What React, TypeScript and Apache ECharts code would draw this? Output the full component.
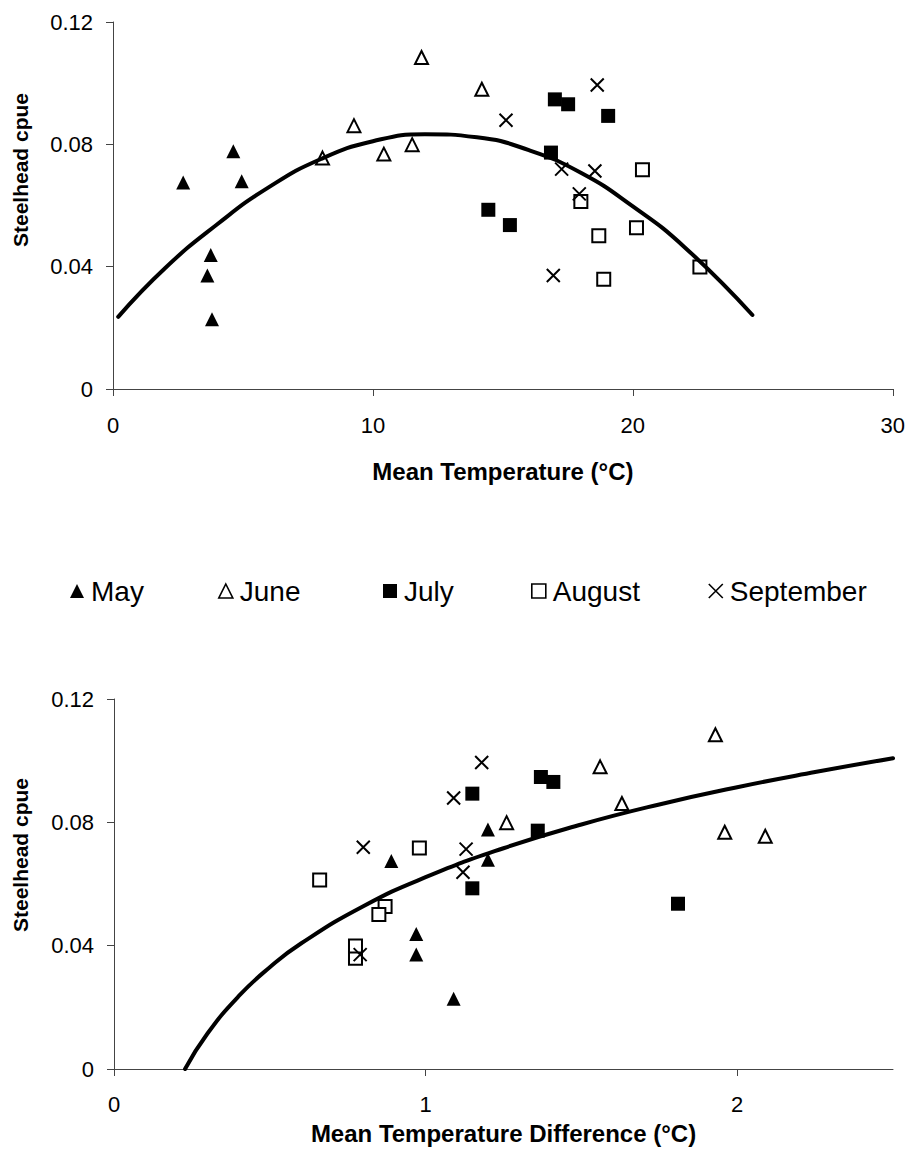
import React, { useEffect, useRef } from "react";
import * as echarts from "echarts";

// ---- Data ----
const months = ["May", "June", "July", "August", "September"];

// Steelhead cpue per sample, with mean temperature (°C) and mean temperature difference (°C)
const mayCpue = [0.0675, 0.0777, 0.0679, 0.0438, 0.0371, 0.0228];
const mayTemp = [2.7, 4.63, 4.95, 3.76, 3.63, 3.81];
const mayDiff = [0.89, 1.2, 1.2, 0.97, 0.97, 1.09];

const juneCpue = [0.0755, 0.0861, 0.0768, 0.0799, 0.1084, 0.098];
const juneTemp = [8.06, 9.27, 10.42, 11.51, 11.87, 14.19];
const juneDiff = [2.09, 1.63, 1.96, 1.26, 1.93, 1.56];

const julyCpue = [0.0947, 0.0931, 0.0893, 0.0773, 0.0586, 0.0536];
const julyTemp = [17.0, 17.51, 19.05, 16.85, 14.44, 15.27];
const julyDiff = [1.37, 1.41, 1.15, 1.36, 1.15, 1.81];

const augustCpue = [0.0717, 0.0613, 0.0527, 0.0501, 0.0359, 0.0399];
const augustTemp = [20.37, 18.0, 20.14, 18.69, 18.88, 22.58];
const augustDiff = [0.98, 0.66, 0.87, 0.85, 0.775, 0.775];

const septemberCpue = [0.0994, 0.0879, 0.0719, 0.0713, 0.0638, 0.0371];
const septemberTemp = [18.63, 15.12, 17.26, 18.54, 17.94, 16.94];
const septemberDiff = [1.18, 1.09, 0.8, 1.13, 1.12, 0.79];

// Fitted trend curves
const tempCurveX = [0.2, 2, 4, 6, 8, 10, 12, 14, 16, 18, 20, 22, 24.6];
const tempCurveY = [0.0236, 0.0395, 0.0538, 0.066, 0.0752, 0.081, 0.0833, 0.0823, 0.0781, 0.0707, 0.0597, 0.0463, 0.0242];

const diffCurveX = [0.228, 0.3, 0.4, 0.5, 0.6, 0.8, 1.0, 1.25, 1.5, 1.75, 2.0, 2.25, 2.5];
const diffCurveY = [0, 0.0115, 0.0236, 0.033, 0.0407, 0.0528, 0.0622, 0.0716, 0.0793, 0.0858, 0.0914, 0.0963, 0.1008];

// ---- Styles ----
const FONT = '"Liberation Sans", Arial, Helvetica, sans-serif';
const X_ICON = "path://M0,0L10,10M10,0L0,10";

const monthStyles: Record<string, any> = {
  May: { symbol: "triangle", symbolSize: 14, itemStyle: { color: "#000", opacity: 1 } },
  June: { symbol: "triangle", symbolSize: 13, itemStyle: { color: "#fff", borderColor: "#000", borderWidth: 2, opacity: 1 } },
  July: { symbol: "rect", symbolSize: 14, itemStyle: { color: "#000", opacity: 1 } },
  August: { symbol: "rect", symbolSize: 13, itemStyle: { color: "#fff", borderColor: "#000", borderWidth: 2, opacity: 1 } },
  September: { symbol: X_ICON, symbolSize: 13, itemStyle: { color: "#000", borderColor: "#000", borderWidth: 2, opacity: 1 } },
};

const monthData: Record<string, { cpue: number[]; temp: number[]; diff: number[] }> = {
  May: { cpue: mayCpue, temp: mayTemp, diff: mayDiff },
  June: { cpue: juneCpue, temp: juneTemp, diff: juneDiff },
  July: { cpue: julyCpue, temp: julyTemp, diff: julyDiff },
  August: { cpue: augustCpue, temp: augustTemp, diff: augustDiff },
  September: { cpue: septemberCpue, temp: septemberTemp, diff: septemberDiff },
};

const legendLefts = [65, 213, 378, 526, 703];

function zip(xs: number[], ys: number[]) {
  return xs.map((x, i) => [x, ys[i]]);
}

function buildOption() {
  const axisLine = { show: true, lineStyle: { color: "#444", width: 1 } };
  const axisTick = { show: true, length: 7, lineStyle: { color: "#444", width: 1 } };
  const labelStyle = { color: "#000", fontSize: 22, fontFamily: FONT };
  const nameStyle = { color: "#000", fontSize: 24, fontWeight: "bold", fontFamily: FONT };

  const series: any[] = [];
  months.forEach((m) => {
    const d = monthData[m];
    const st = monthStyles[m];
    series.push({
      type: "scatter",
      name: m,
      xAxisIndex: 0,
      yAxisIndex: 0,
      data: zip(d.temp, d.cpue),
      ...st,
      z: 3,
    });
    series.push({
      type: "scatter",
      name: m,
      xAxisIndex: 1,
      yAxisIndex: 1,
      data: zip(d.diff, d.cpue),
      ...st,
      z: 3,
    });
  });
  const curveStyle = {
    type: "line",
    smooth: true,
    showSymbol: false,
    symbol: "none",
    lineStyle: { color: "#000", width: 4, cap: "round", join: "round" },
    z: 4,
  };
  series.push({
    ...curveStyle,
    name: "Temperature fit",
    xAxisIndex: 0,
    yAxisIndex: 0,
    data: zip(tempCurveX, tempCurveY),
  });
  series.push({
    ...curveStyle,
    name: "Difference fit",
    xAxisIndex: 1,
    yAxisIndex: 1,
    data: zip(diffCurveX, diffCurveY),
  });

  const legends = months.map((m, i) => {
    const st = monthStyles[m];
    return {
      show: true,
      left: legendLefts[i],
      top: 572,
      orient: "horizontal",
      itemWidth: 14,
      itemHeight: 14,
      itemGap: 0,
      selectedMode: false,
      textStyle: { color: "#000", fontSize: 28, fontFamily: FONT, padding: [0, 0, 0, 2] },
      data: [
        {
          name: m,
          icon: st.symbol,
          itemStyle: { ...st.itemStyle, borderWidth: st.itemStyle.borderWidth ? 1.6 : 0 },
        },
      ],
    };
  });

  return {
    animation: false,
    backgroundColor: "#fff",
    textStyle: { fontFamily: FONT },
    legend: legends,
    grid: [
      { left: 113, top: 22, width: 780, height: 367, containLabel: false },
      { left: 114, top: 699, width: 779, height: 370, containLabel: false },
    ],
    xAxis: [
      {
        type: "value",
        gridIndex: 0,
        min: 0,
        max: 30,
        interval: 10,
        name: "Mean Temperature (°C)",
        nameLocation: "middle",
        nameGap: 70,
        nameTextStyle: nameStyle,
        axisLine,
        axisTick,
        axisLabel: { ...labelStyle, margin: 25 },
        splitLine: { show: false },
      },
      {
        type: "value",
        gridIndex: 1,
        min: 0,
        max: 2.5,
        interval: 1,
        name: "Mean Temperature Difference (°C)",
        nameLocation: "middle",
        nameGap: 52,
        nameTextStyle: nameStyle,
        axisLine,
        axisTick,
        axisLabel: { ...labelStyle, margin: 24, showMaxLabel: false },
        splitLine: { show: false },
      },
    ],
    yAxis: [
      {
        type: "value",
        gridIndex: 0,
        min: 0,
        max: 0.12,
        interval: 0.04,
        axisLine,
        axisTick,
        axisLabel: { ...labelStyle, margin: 20 },
        splitLine: { show: false },
      },
      {
        type: "value",
        gridIndex: 1,
        min: 0,
        max: 0.12,
        interval: 0.04,
        axisLine,
        axisTick,
        axisLabel: { ...labelStyle, margin: 20 },
        splitLine: { show: false },
      },
    ],
    graphic: [
      {
        type: "text",
        x: 20,
        y: 170,
        rotation: Math.PI / 2,
        style: {
          text: "Steelhead cpue",
          fill: "#000",
          fontSize: 21,
          fontWeight: "bold",
          fontFamily: FONT,
          align: "center",
          verticalAlign: "middle",
        },
      },
      {
        type: "text",
        x: 20,
        y: 855,
        rotation: Math.PI / 2,
        style: {
          text: "Steelhead cpue",
          fill: "#000",
          fontSize: 21,
          fontWeight: "bold",
          fontFamily: FONT,
          align: "center",
          verticalAlign: "middle",
        },
      },
    ],
    series,
  };
}

export default function App() {
  const ref = useRef<HTMLDivElement>(null);
  useEffect(() => {
    if (!ref.current) return;
    const chart = echarts.init(ref.current, undefined, { renderer: "svg" });
    chart.setOption(buildOption() as any);
    return () => chart.dispose();
  }, []);
  return (
    <div
      ref={ref}
      style={{ position: "absolute", left: 0, top: 0, width: 908, height: 1159, background: "#fff" }}
    />
  );
}
